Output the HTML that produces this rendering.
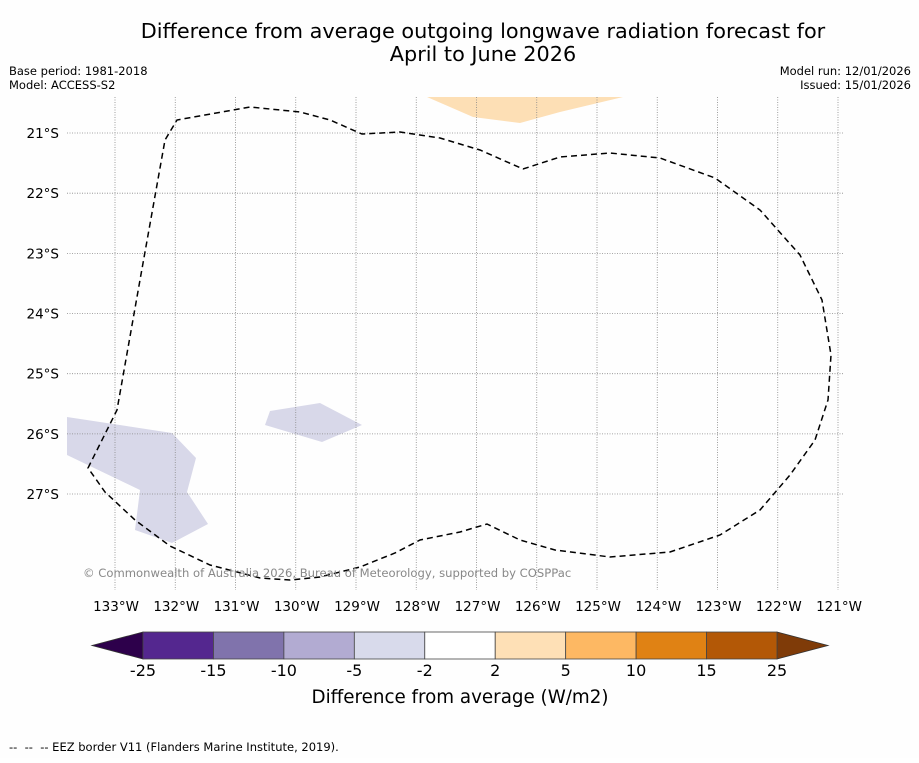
<!DOCTYPE html>
<html><head><meta charset="utf-8"><style>
body{margin:0;background:#fff;}
svg text{font-family:"DejaVu Sans","Liberation Sans",sans-serif;}
</style></head><body>
<svg width="919" height="758" viewBox="0 0 919 758" xmlns="http://www.w3.org/2000/svg">
<rect width="919" height="758" fill="#fefefe"/>
<text x="483" y="38" font-size="20.8" text-anchor="middle">Difference from average outgoing longwave radiation forecast for</text>
<text x="483" y="61" font-size="20.8" text-anchor="middle">April to June 2026</text>
<text x="9" y="75" font-size="11.5">Base period: 1981-2018</text>
<text x="9" y="89" font-size="11.5">Model: ACCESS-S2</text>
<text x="911" y="75" font-size="11.5" text-anchor="end">Model run: 12/01/2026</text>
<text x="911" y="89" font-size="11.5" text-anchor="end">Issued: 15/01/2026</text>
<g id="fills">
<polygon fill="#d8d8e9" points="67,417 172,433 196,458 187,492 208,524 172,543 135,530 140,490 67,455"/>
<polygon fill="#d8d8e9" points="270,411 320,403 362,425 322,442 265,425"/>
<polygon fill="#fddfb5" points="427,97 473,117 520,123 560,112 623,97"/>
</g>
<g id="grid"></g>
<path fill="none" stroke="#000" stroke-width="1.5" stroke-dasharray="6,4" d="M88,468 L117,410 L140,280 L165,140 L177,120 L250,107 L300,112 L330,120 L362,134 L400,132 L440,138 L480,150 L523,169 L560,157 L610,153 L660,158 L715,178 L760,210 L800,255 L822,300 L831,355 L828,400 L815,440 L790,475 L760,510 L720,535 L670,552 L610,557 L555,550 L520,540 L487,524 L460,532 L420,540 L395,553 L360,567 L320,577 L290,580 L260,578 L210,565 L170,546 L135,520 L105,492 Z"/>
<text x="83" y="577" font-size="11.6" fill="#888">© Commonwealth of Australia 2026, Bureau of Meteorology, supported by COSPPac</text>
<g id="cbar"></g>
<text x="460" y="703" font-size="18.3" text-anchor="middle">Difference from average (W/m2)</text>
<text x="9" y="751" font-size="11.5" xml:space="preserve">--  --  -- EEZ border V11 (Flanders Marine Institute, 2019).</text>
</svg>
<script>
const lonTicks=[-133,-132,-131,-130,-129,-128,-127,-126,-125,-124,-123,-122,-121];
const latTicks=[-21,-22,-23,-24,-25,-26,-27];
const cbarBounds=[-25,-15,-10,-5,-2,2,5,10,15,25];
const cbarColors=["#54278f","#8073ac","#b2abd2","#d8daeb","#ffffff","#fee0b6","#fdb863","#e08214","#b35806"];
const NS="http://www.w3.org/2000/svg";
const xOf=lon=>115+(lon+133)*60.25;
const yOf=lat=>133+(-21-lat)*60.17;
function mk(tag,attrs,parent){const e=document.createElementNS(NS,tag);for(const k in attrs)e.setAttribute(k,attrs[k]);parent.appendChild(e);return e;}
const g=document.getElementById('grid');
lonTicks.forEach(l=>{
 const x=xOf(l);
 const ln=mk('line',{x1:x,x2:x,y1:97,y2:590,stroke:'#888','stroke-width':0.8,'stroke-dasharray':'1,1.5'},g);
 
 
 const t=mk('text',{x:x+1,y:611,'font-size':13.5,'text-anchor':'middle'},g);
 t.textContent=Math.abs(l)+'°W';
 
 
});
latTicks.forEach(l=>{
 const y=yOf(l);
 const ln=mk('line',{x1:67,x2:843,y1:y,y2:y,stroke:'#888','stroke-width':0.8,'stroke-dasharray':'1,1.5'},g);
 
 
 const t=mk('text',{x:59,y:y+5,'font-size':13.5,'text-anchor':'end'},g);
 t.textContent=Math.abs(l)+'°S';
 
 
});
const cb=document.getElementById('cbar');
const cx0=143,cw=(777-143)/cbarColors.length,cy=632,ch=27;
const lt=mk('polygon',{points:`${cx0},${cy} ${cx0},${cy+ch} 92,${cy+ch/2}`,fill:'#2d004b',stroke:'#333','stroke-width':0.8},cb);


const rt=mk('polygon',{points:`777,${cy} 777,${cy+ch} 828,${cy+ch/2}`,fill:'#7f3b08',stroke:'#333','stroke-width':0.8},cb);


cbarColors.forEach((c,i)=>{
 const r=mk('rect',{x:cx0+i*cw,y:cy,width:cw,height:ch,fill:c,stroke:'#444','stroke-width':0.8},cb);
 
 
});
cbarBounds.forEach((b,i)=>{
 const t=mk('text',{x:cx0+i*cw,y:676,'font-size':16,'text-anchor':'middle'},cb);
 t.textContent=b;
 
 
});
</script>
</body></html>
